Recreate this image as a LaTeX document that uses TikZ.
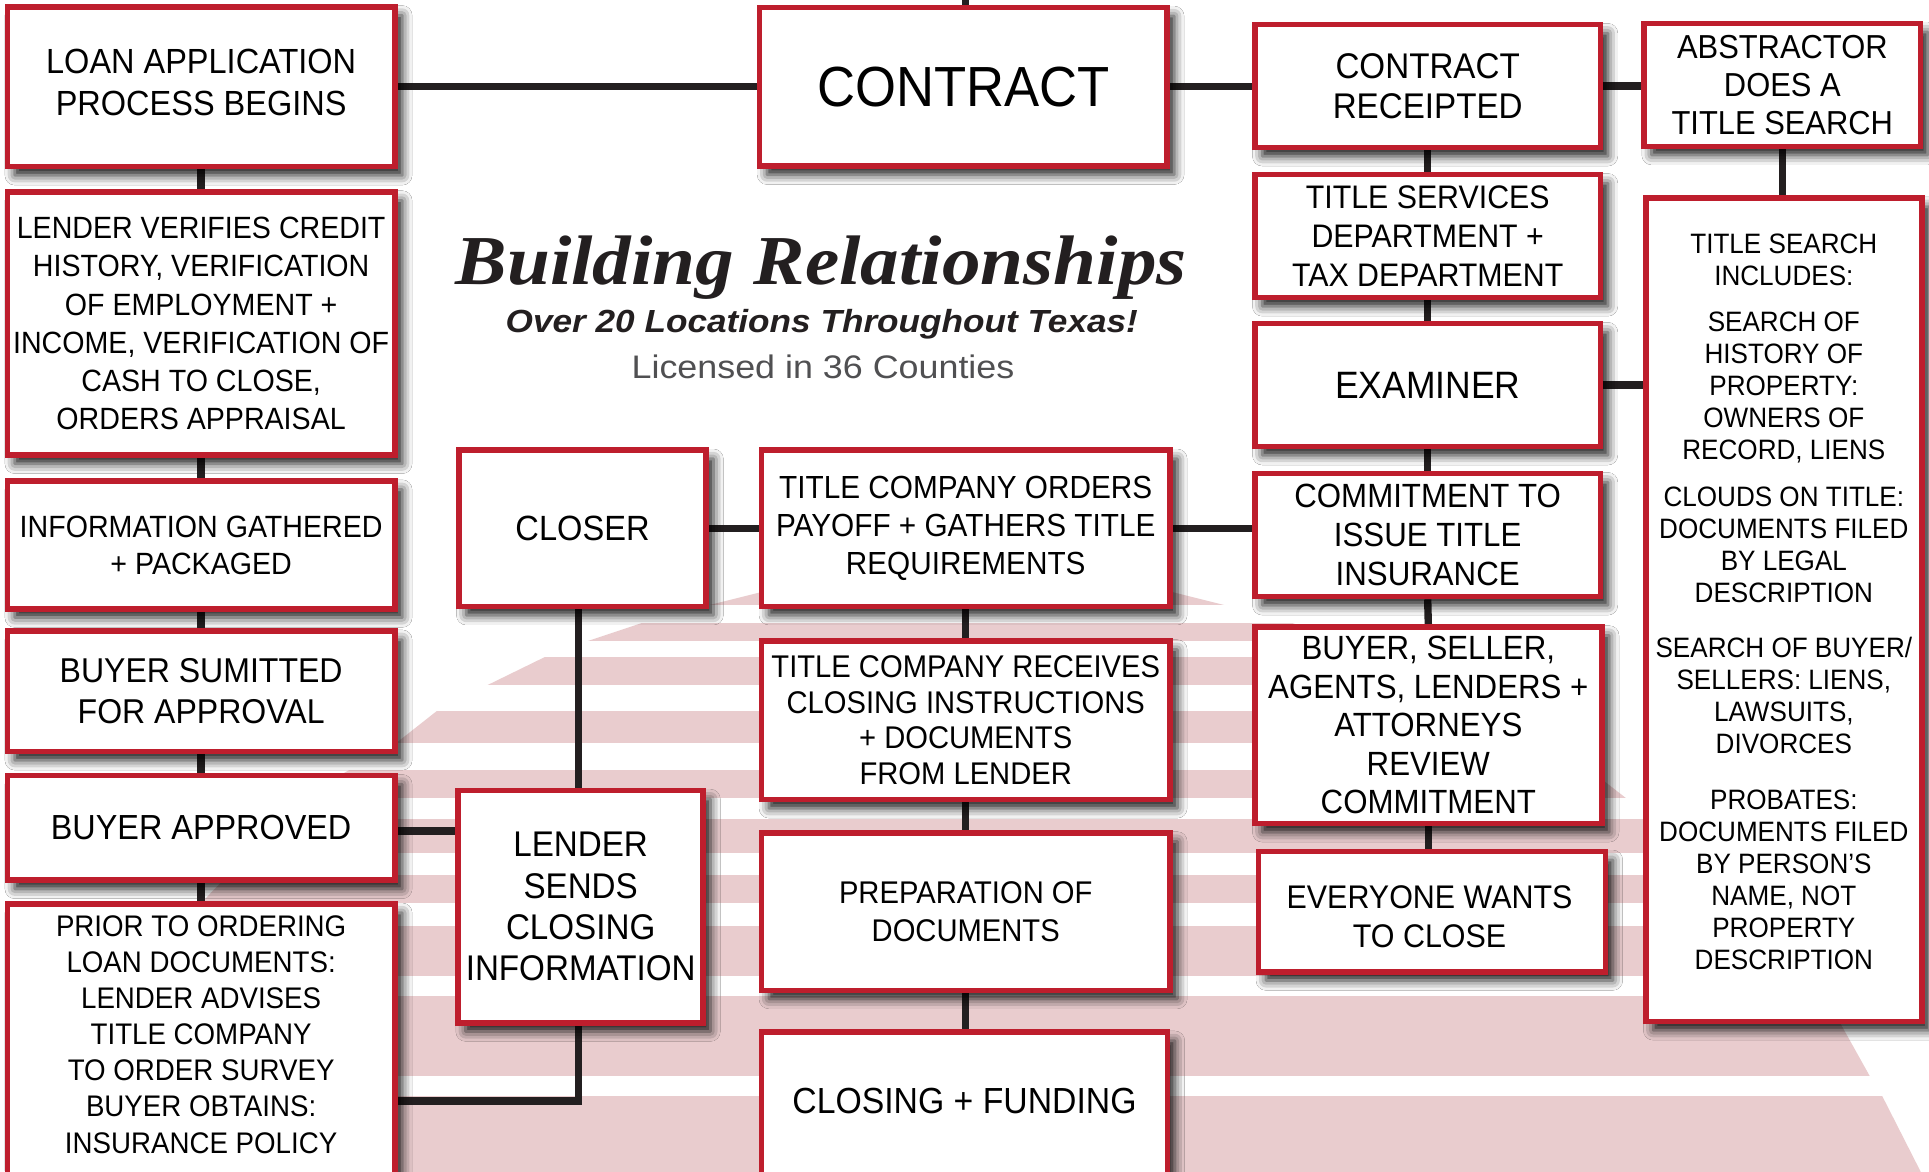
\documentclass[tikz,border=0pt]{standalone}
\usepackage{fontspec}
\setmainfont{Liberation Sans}
\newfontfamily\boxfont{Liberation Sans}[FakeStretch=0.93]
\newfontfamily\titlefont{Liberation Serif}[FakeStretch=1.1]
\newfontfamily\subfont{Liberation Sans}[FakeStretch=1.1]
\newfontfamily\licfont{Liberation Sans}[FakeStretch=1.1]
\usetikzlibrary{shadows.blur}
\definecolor{boxred}{RGB}{190,30,45}
\definecolor{linegray}{RGB}{35,31,32}
\definecolor{stripepink}{RGB}{233,204,206}
\definecolor{licgray}{RGB}{80,80,82}
\pgfdeclarelayer{bg}
\pgfdeclarelayer{conn}
\pgfsetlayers{bg,conn,main}
\newcommand{\bxf}[2]{\boxfont\fontsize{#1}{#2}\selectfont}
\tikzset{
  box/.style={draw=boxred, line width=4.5pt, fill=white, align=center, inner sep=0pt, text=black,
    blur shadow={shadow xshift=6pt, shadow yshift=-7pt, shadow blur radius=8pt, shadow opacity=90}},
  wire/.style={draw=linegray, line width=6pt},
  lbl/.style={align=center, inner sep=0pt, text=black},
}
\begin{document}
\begin{tikzpicture}[x=1pt,y=-1pt]
\useasboundingbox (0,0) rectangle (1568,952);

% ---------- boxes: left column ----------
\node[box, minimum width=315pt, minimum height=130pt] (loan) at (163.5,70.5) {};
\node[lbl, font={\bxf{28.4}{34}}] (loantext) at (163.5,67) {LOAN APPLICATION\\PROCESS BEGINS};
\node[box, minimum width=315pt, minimum height=214pt, font={\bxf{25}{31}}] (lender) at (163.5,263) {LENDER VERIFIES CREDIT\\HISTORY, VERIFICATION\\OF EMPLOYMENT +\\INCOME, VERIFICATION OF\\CASH TO CLOSE,\\ORDERS APPRAISAL};
\node[box, minimum width=315pt, minimum height=104pt, font={\bxf{25}{30}}] (info) at (163.5,443) {INFORMATION GATHERED\\+ PACKAGED};
\node[box, minimum width=315pt, minimum height=98pt, font={\bxf{28}{33}}] (submit) at (163.5,562) {BUYER SUMITTED\\FOR APPROVAL};
\node[box, minimum width=315pt, minimum height=85pt, font={\bxf{28.3}{33}}] (approved) at (163.5,673) {BUYER APPROVED};
\node[box, minimum width=315pt, minimum height=240pt] (prior) at (163.5,855) {};
\node[lbl, font={\bxf{24.2}{29.3}}] (priortext) at (163.5,841) {PRIOR TO ORDERING\\LOAN DOCUMENTS:\\LENDER ADVISES\\TITLE COMPANY\\TO ORDER SURVEY\\BUYER OBTAINS:\\INSURANCE POLICY};

% ---------- boxes: middle ----------
\node[box, minimum width=331pt, minimum height=129pt, font={\bxf{46}{50}}] (contract) at (783,70.5) {CONTRACT};
\node[box, minimum width=201pt, minimum height=127pt, font={\bxf{28.5}{33}}] (closer) at (473.5,429.5) {CLOSER};
\node[box, minimum width=332pt, minimum height=127pt, font={\bxf{26}{31}}] (orders) at (785,429.5) {TITLE COMPANY ORDERS\\PAYOFF + GATHERS TITLE\\REQUIREMENTS};
\node[box, minimum width=332pt, minimum height=129pt, font={\bxf{25.5}{29}}] (receives) at (785,585.5) {TITLE COMPANY RECEIVES\\CLOSING INSTRUCTIONS\\+ DOCUMENTS\\FROM LENDER};
\node[box, minimum width=332pt, minimum height=128pt, font={\bxf{25.5}{31}}] (prep) at (785,741) {PREPARATION OF\\DOCUMENTS};
\node[box, minimum width=330pt, minimum height=136pt] (closing) at (784,907) {};
\node[lbl, font={\bxf{29.5}{33}}] (closingtext) at (784,895) {CLOSING + FUNDING};
\node[box, minimum width=199pt, minimum height=189pt, font={\bxf{29}{33.5}}] (lendersends) at (472,737) {LENDER\\SENDS\\CLOSING\\INFORMATION};

% ---------- boxes: right ----------
\node[box, minimum width=281pt, minimum height=100pt, font={\bxf{29}{33}}] (receipted) at (1160.5,70) {CONTRACT\\RECEIPTED};
\node[box, minimum width=281pt, minimum height=100pt, font={\bxf{26.5}{31.5}}] (services) at (1160.5,192) {TITLE SERVICES\\DEPARTMENT +\\TAX DEPARTMENT};
\node[box, minimum width=281pt, minimum height=100pt, font={\bxf{31}{35}}] (examiner) at (1160.5,313) {EXAMINER};
\node[box, minimum width=281pt, minimum height=100pt, font={\bxf{27.3}{31.5}}] (commitment) at (1160.5,435) {COMMITMENT TO\\ISSUE TITLE\\INSURANCE};
\node[box, minimum width=282pt, minimum height=160pt, font={\bxf{27.3}{31.3}}] (review) at (1161,589.5) {BUYER, SELLER,\\AGENTS, LENDERS +\\ATTORNEYS\\REVIEW\\COMMITMENT};
\node[box, minimum width=282pt, minimum height=98pt] (everyone) at (1164,741) {};
\node[lbl, font={\bxf{26.6}{32}}] (everyonetext) at (1162,745) {EVERYONE WANTS\\TO CLOSE};
\node[box, minimum width=224.5pt, minimum height=100pt, font={\bxf{27}{31}}] (abstractor) at (1448.75,69) {ABSTRACTOR\\DOES A\\TITLE SEARCH};
\node[box, minimum width=224.5pt, minimum height=669.5pt] (search) at (1450,495.75) {};
\node[lbl, font={\bxf{22.8}{26}}] (searchtext) at (1450,489) {TITLE SEARCH\\INCLUDES:\\[12pt]SEARCH OF\\HISTORY OF\\PROPERTY:\\OWNERS OF\\RECORD, LIENS\\[12pt]CLOUDS ON TITLE:\\DOCUMENTS FILED\\BY LEGAL\\DESCRIPTION\\[19pt]SEARCH OF BUYER/\\SELLERS: LIENS,\\LAWSUITS,\\DIVORCES\\[19pt]PROBATES:\\DOCUMENTS FILED\\BY PERSON’S\\NAME, NOT\\PROPERTY\\DESCRIPTION};

% ---------- title ----------
\node[anchor=base, inner sep=0pt, text=linegray, font={\titlefont\bfseries\itshape\fontsize{57}{60}\selectfont}] (title) at (667.5,231.6) {Building Relationships};
\node[anchor=base, inner sep=0pt, text=linegray, font={\subfont\bfseries\itshape\fontsize{26}{29}\selectfont}] (subtitle) at (668,270) {Over 20 Locations Throughout Texas!};
\node[anchor=base, inner sep=0pt, text=licgray, font={\licfont\fontsize{26.5}{30}\selectfont}] (licensed) at (669,307.5) {Licensed in 36 Counties};

% ---------- connectors ----------
\begin{pgfonlayer}{conn}
\coordinate (topend) at (785,-10);
\coordinate (elbow) at (470,895);
\draw[wire] (topend) -- (topend |- contract.north);
\draw[wire] (loan.east) -- (loan.east -| contract.west);
\draw[wire] (contract.east) -- (contract.east -| receipted.west);
\draw[wire] (receipted.east) -- (receipted.east -| abstractor.west);
\draw[wire] (abstractor.south) -- (abstractor.south |- search.north);
\draw[wire] (examiner.east) -- (examiner.east -| search.west);
\draw[wire] (receipted.south) -- (services.north);
\draw[wire] (services.south) -- (examiner.north);
\draw[wire] (examiner.south) -- (commitment.north);
\draw[wire] (commitment.south) -- (review.north);
\draw[wire] (review.south) -- (review.south |- everyone.north);
\draw[wire] (loan.south) -- (lender.north);
\draw[wire] (lender.south) -- (info.north);
\draw[wire] (info.south) -- (submit.north);
\draw[wire] (submit.south) -- (approved.north);
\draw[wire] (approved.south) -- (prior.north);
\draw[wire] (closer.east) -- (orders.west);
\draw[wire] (orders.east) -- (orders.east -| commitment.west);
\draw[wire] (orders.south) -- (receives.north);
\draw[wire] (receives.south) -- (prep.north);
\draw[wire] (prep.south) -- (prep.south |- closing.north);
\draw[wire] (elbow |- closer.south) -- (elbow |- lendersends.north);
\draw[wire] ([yshift=-2.5pt]approved.east) -- ([yshift=-2.5pt]approved.east -| lendersends.west);
\draw[wire] (elbow |- lendersends.south) -- (elbow) -- (elbow -| prior.east);
\end{pgfonlayer}

% ---------- background stripes ----------
\begin{pgfonlayer}{bg}
\fill[white] (0,0) rectangle (1568,952);
\begin{scope}
\clip (786,440) -- (956,482) -- (996,492) -- (1049,506) -- (1094,521) -- (1129,534) -- (1176,557) -- (1217,578) -- (1250,604) -- (1304,635) -- (1322,649) -- (1400,725) -- (1496,832) -- (1520,875) -- (1530,891) -- (1561,952) -- (1571,980)
  -- (1,980) -- (11,952) -- (42,891) -- (52,875) -- (76,832) -- (172,725) -- (250,649) -- (268,635) -- (322,604) -- (355,578) -- (396,557) -- (443,534) -- (478,521) -- (523,506) -- (576,492) -- (616,482) -- cycle;
\foreach \a/\b in {430/492, 506/521, 534/557, 578/604, 626/649, 666/693, 711/734, 753/793, 810/875, 891/990}
  \fill[stripepink] (0,\a) rectangle (1568,\b);
\end{scope}
\end{pgfonlayer}
\end{tikzpicture}
\end{document}
